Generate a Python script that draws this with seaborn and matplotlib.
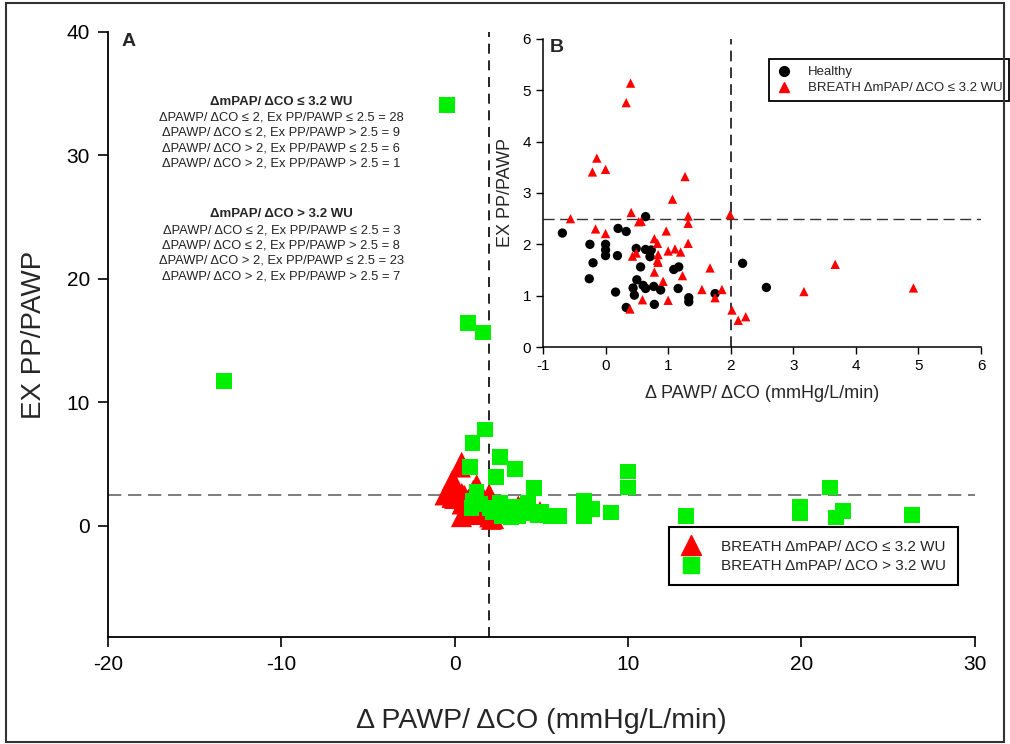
import pandas as pd
import matplotlib
matplotlib.use('Agg')
import matplotlib.pyplot as plt
import matplotlib.patches as mpatches
import seaborn as sns

# BREATH dmPAP/dCO <= 3.2 WU (red triangles, also in inset B)
low_x = [-0.56, 0.40, 0.33, -0.14, -0.21, 0.00, 1.27, 1.07, 0.41, 0.57, 0.53, 1.32,
         1.32, 1.99, -0.16, 0.00, 0.97, 0.78, 0.83, 1.32, 1.00, 1.11, 1.20, 0.43,
         0.49, 0.84, 0.83, 0.84, 0.78, 1.23, 1.67, 0.92, 1.54, 1.86, 1.75, 0.59,
         1.00, 0.39, 2.02, 2.12, 2.24, 3.17, 3.67, 4.92]
low_y = [2.50, 5.14, 4.76, 3.68, 3.41, 3.46, 3.32, 2.88, 2.62, 2.45, 2.44, 2.55,
         2.41, 2.58, 2.30, 2.21, 2.26, 2.11, 2.02, 2.02, 1.87, 1.91, 1.85, 1.77,
         1.83, 1.80, 1.69, 1.65, 1.46, 1.39, 1.54, 1.28, 1.12, 1.12, 0.96, 0.92,
         0.91, 0.74, 0.72, 0.52, 0.59, 1.08, 1.61, 1.15]

# BREATH dmPAP/dCO > 3.2 WU (green squares)
high_x = [-0.45, -13.3, 0.76, 1.63, 1.74, 1.03, 2.6, 3.47, 0.88, 2.38, 4.57, 1.26,
          10.0, 10.0, 21.67, 1.03, 0.97, 1.45, 2.05, 2.6, 3.02, 3.66, 4.24, 4.43,
          5.0, 5.58, 6.02, 7.45, 7.45, 7.9, 9.04, 13.33, 19.93, 19.93, 22.4, 22.0,
          26.4, 2.7, 3.27, 2.2, 3.5, 4.8]
high_y = [34.06, 11.76, 16.4, 15.65, 7.8, 6.7, 5.6, 4.6, 4.73, 3.97, 3.03, 2.78,
          4.4, 3.1, 3.1, 2.03, 1.43, 1.76, 1.43, 1.89, 1.35, 0.81, 1.89, 1.0,
          1.16, 0.81, 0.81, 2.03, 0.81, 1.35, 1.08, 0.81, 1.5, 1.0, 1.2, 0.67,
          0.9, 0.81, 0.67, 1.1, 1.5, 0.9]

# Healthy controls (black circles, inset B)
healthy_x = [-0.69, -0.25, -0.26, -0.20, 0.00, 0.00, 0.00, 0.20, 0.33, 0.19, 0.16,
             0.33, 0.64, 0.49, 0.64, 0.73, 0.71, 0.56, 0.50, 0.44, 0.46, 0.60, 0.64,
             0.77, 0.78, 0.88, 1.09, 1.17, 1.16, 1.33, 1.33, 1.75, 2.19, 2.57]
healthy_y = [2.22, 2.00, 1.33, 1.64, 2.00, 1.89, 1.78, 2.31, 2.25, 1.78, 1.07,
             0.77, 2.54, 1.92, 1.90, 1.89, 1.76, 1.56, 1.31, 1.15, 1.01, 1.20, 1.14,
             1.18, 0.83, 1.11, 1.51, 1.56, 1.14, 0.96, 0.88, 1.04, 1.63, 1.16]

lab_low = 'BREATH \u0394mPAP/ \u0394CO \u2264 3.2 WU'
lab_high = 'BREATH \u0394mPAP/ \u0394CO > 3.2 WU'

summary_low = ['\u0394PAWP/ \u0394CO \u2264 2, Ex PP/PAWP \u2264 2.5 = 28',
               '\u0394PAWP/ \u0394CO \u2264 2, Ex PP/PAWP > 2.5 = 9',
               '\u0394PAWP/ \u0394CO > 2, Ex PP/PAWP \u2264 2.5 = 6',
               '\u0394PAWP/ \u0394CO > 2, Ex PP/PAWP > 2.5 = 1']
summary_high = ['\u0394PAWP/ \u0394CO \u2264 2, Ex PP/PAWP \u2264 2.5 = 3',
                '\u0394PAWP/ \u0394CO \u2264 2, Ex PP/PAWP > 2.5 = 8',
                '\u0394PAWP/ \u0394CO > 2, Ex PP/PAWP \u2264 2.5 = 23',
                '\u0394PAWP/ \u0394CO > 2, Ex PP/PAWP > 2.5 = 7']

RED = '#ff0000'
GREEN = '#00ee00'


def run():
    sns.set_style('ticks')
    plt.rcParams['font.family'] = ['Liberation Sans', 'DejaVu Sans']
    plt.rcParams['axes.unicode_minus'] = False

    df_main = pd.concat([
        pd.DataFrame({'x': low_x, 'y': low_y, 'grp': lab_low}),
        pd.DataFrame({'x': high_x, 'y': high_y, 'grp': lab_high}),
    ])
    df_inset = pd.concat([
        pd.DataFrame({'x': healthy_x, 'y': healthy_y, 'grp': 'Healthy'}),
        pd.DataFrame({'x': low_x, 'y': low_y, 'grp': lab_low}),
    ])

    fig = plt.figure(figsize=(10.1, 7.44), dpi=100)
    fig.patches.append(mpatches.Rectangle((0.006, 0.003), 0.988, 0.993, transform=fig.transFigure,
                                          fill=False, edgecolor='#333333', linewidth=1.5))

    # Panel A
    ax = fig.add_axes([0.107, 0.144, 0.858, 0.813])
    ax.axvline(2, color='black', ls=(0, (6, 4)), lw=1.2, zorder=1)
    ax.axhline(2.5, color='#666666', ls=(0, (8, 4)), lw=1.2, zorder=1)
    sns.scatterplot(data=df_main, x='x', y='y', hue='grp', style='grp',
                    palette={lab_low: RED, lab_high: GREEN},
                    markers={lab_low: '^', lab_high: 's'},
                    size='grp', sizes={lab_low: 230, lab_high: 130},
                    linewidth=0, ax=ax, zorder=3, legend=False)
    ax.set_xlim(-20, 30)
    ax.set_ylim(-9, 40)
    ax.set_xticks([-20, -10, 0, 10, 20, 30])
    ax.set_yticks([0, 10, 20, 30, 40])
    ax.tick_params(direction='out', length=7, width=1.2, labelsize=15, colors='black', pad=6)
    ax.set_xlabel('\u0394 PAWP/ \u0394CO (mmHg/L/min)', fontsize=20.5)
    ax.set_ylabel('EX PP/PAWP', fontsize=20)
    ax.xaxis.set_label_coords(0.5, -0.117)
    ax.yaxis.set_label_coords(-0.07, 0.5)
    sns.despine(ax=ax)
    for s in ['left', 'bottom']:
        ax.spines[s].set_linewidth(1.3)
        ax.spines[s].set_color('black')
    ax.text(0.015, 0.998, 'A', transform=ax.transAxes, fontsize=14, fontweight='bold',
            va='top', ha='left')

    # summary counts, one line at a time
    tx = 0.20
    ax.text(tx, (637 - 102) / 605, '\u0394mPAP/ \u0394CO \u2264 3.2 WU', transform=ax.transAxes,
            fontsize=9.5, fontweight='bold', ha='center', va='center')
    for i, line in enumerate(summary_low):
        ax.text(tx, (637 - 117.5 - 15.4 * i) / 605, line, transform=ax.transAxes,
                fontsize=9.3, ha='center', va='center', color='#222222')
    ax.text(tx, (637 - 214.5) / 605, '\u0394mPAP/ \u0394CO > 3.2 WU', transform=ax.transAxes,
            fontsize=9.5, fontweight='bold', ha='center', va='center')
    for i, line in enumerate(summary_high):
        ax.text(tx, (637 - 230.5 - 15.2 * i) / 605, line, transform=ax.transAxes,
                fontsize=9.3, ha='center', va='center', color='#222222')

    h_low = plt.Line2D([], [], marker='^', color=RED, ls='', markersize=15)
    h_high = plt.Line2D([], [], marker='s', color=GREEN, ls='', markersize=11)
    leg = ax.legend([h_low, h_high], [lab_low, lab_high], loc='lower left',
                    bbox_to_anchor=(0.638, 0.073), fontsize=11, frameon=True,
                    fancybox=False, edgecolor='black', framealpha=1,
                    borderpad=0.8, handlelength=1.3, handletextpad=1.3,
                    labelspacing=0.35)
    leg.get_frame().set_linewidth(1.5)

    # Panel B (inset)
    axi = fig.add_axes([0.5376, 0.5336, 0.4337, 0.414])
    axi.axvline(2, color='black', ls=(0, (7, 4)), lw=1.1, zorder=1)
    axi.axhline(2.5, color='#333333', ls=(0, (8, 4)), lw=1.0, zorder=1)
    sns.scatterplot(data=df_inset, x='x', y='y', hue='grp', style='grp',
                    palette={'Healthy': 'black', lab_low: RED},
                    markers={'Healthy': 'o', lab_low: '^'},
                    s=45, linewidth=0, ax=axi, zorder=3, legend=False)
    axi.set_xlim(-1, 6)
    axi.set_ylim(0, 6)
    axi.set_xticks(range(-1, 7))
    axi.set_yticks(range(0, 7))
    axi.tick_params(direction='out', length=5, width=1, labelsize=11, colors='black')
    axi.set_xlabel('\u0394 PAWP/ \u0394CO (mmHg/L/min)', fontsize=13, labelpad=9)
    axi.set_ylabel('EX PP/PAWP', fontsize=13, labelpad=6)
    sns.despine(ax=axi)
    for s in ['left', 'bottom']:
        axi.spines[s].set_linewidth(1.1)
        axi.spines[s].set_color('black')
    axi.text(0.015, 1.0, 'B', transform=axi.transAxes, fontsize=14, fontweight='bold',
             va='top', ha='left')

    hb1 = plt.Line2D([], [], marker='o', color='black', ls='', markersize=7)
    hb2 = plt.Line2D([], [], marker='^', color=RED, ls='', markersize=7)
    legi = axi.legend([hb1, hb2], ['Healthy', lab_low], loc='upper left',
                      bbox_to_anchor=(0.502, 0.955), fontsize=9.5, frameon=True,
                      fancybox=False, edgecolor='black', framealpha=1,
                      borderpad=0.5, handlelength=1.2, handletextpad=1.2,
                      labelspacing=0.3)
    legi.get_frame().set_linewidth(1.3)

    fig.savefig('out.png', dpi=100)


if __name__ == '__main__':
    run()
